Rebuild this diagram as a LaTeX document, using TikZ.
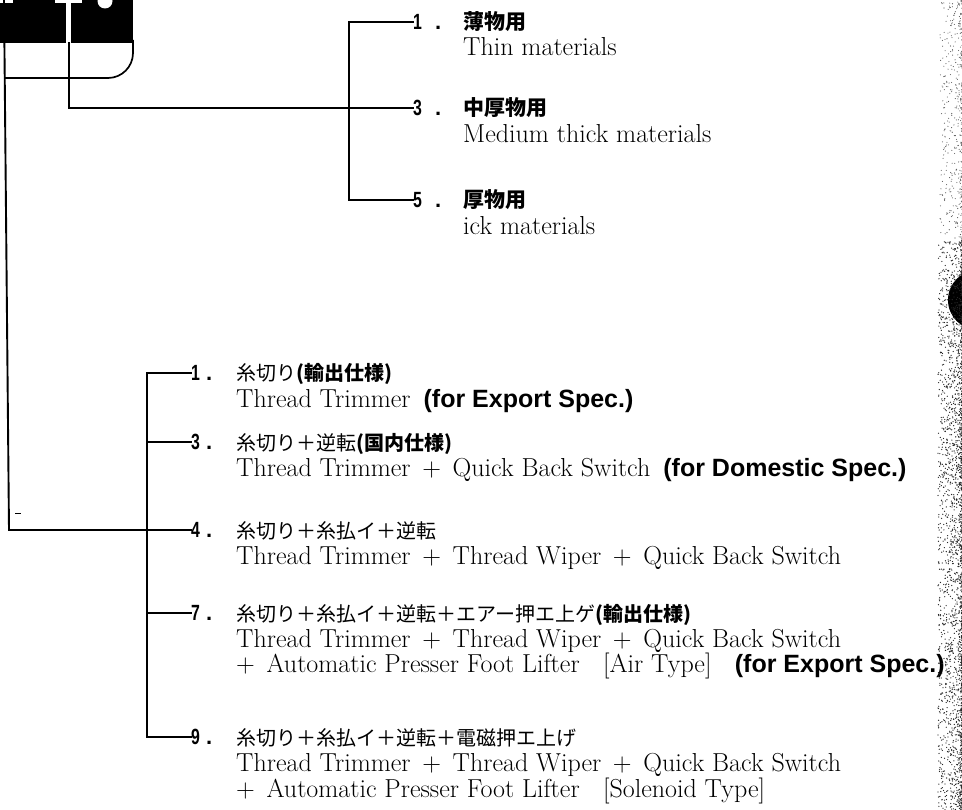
\documentclass[tikz,border=0pt]{standalone}
\usepackage{fontspec}
\usepackage{graphicx}
\newfontfamily\jpf{Noto Sans CJK JP}
\newfontfamily\sansf{Liberation Sans}
\newcommand\enf{\fontsize{26}{26}\selectfont\addfontfeatures{FakeBold=2}}
\newcommand\pl{\hspace{0.45em}+\hspace{0.45em}}
\newcommand\spc[1]{{\sansf\bfseries\fontsize{25}{26}\selectfont #1}}
\newcommand\numb[2]{{\sansf\bfseries\fontsize{22}{22}\selectfont\scalebox{0.72}[1]{#1}\hspace{#2}.}}
\tikzset{
  numt/.style={anchor=west, inner sep=0pt},
  jpt/.style={anchor=base west, inner sep=0pt, yshift=-8pt, font=\jpf\fontsize{20}{22}\selectfont},
  jptop/.style={jpt, font=\jpf\bfseries\fontsize{21}{22}\selectfont},
  ent/.style={anchor=base west, inner sep=0pt, yshift=-8.9pt, font=\enf},
  wire/.style={line width=1.9pt, line cap=rect}
}
\begin{document}
\begin{tikzpicture}[x=1pt,y=-1pt]
\clip (0,0) rectangle (962,810);
\fill[white] (0,0) rectangle (962,810);
% top-left block
\fill (0,0) rectangle (66,43);
\fill (71,0) rectangle (133,43);
\fill[white] (0,0) rectangle (13,3);
\fill[white] (55,0) rectangle (82,3);
\fill[white] (105,1) circle (7.5);
\draw[line width=1.7pt, rounded corners=25pt] (133,40) -- (133,78) -- (5,78);
% top group
\node[numt] (tn1) at (413,22) {\numb{1}{13pt}};
\node[jptop] (tj1) at (463,22) {薄物用};
\node[ent] (te1) at (463,47) {Thin materials};
\node[numt] (tn3) at (413,108) {\numb{3}{13pt}};
\node[jptop] (tj3) at (463,108) {中厚物用};
\node[ent] (te3) at (463,134) {Medium thick materials};
\node[numt] (tn5) at (413,200) {\numb{5}{13pt}};
\node[jptop] (tj5) at (463,200) {厚物用};
\node[ent] (te5) at (463,226) {ick materials};
\coordinate (T1) at (349,22);
\coordinate (T5) at (349,200);
\coordinate (M0) at (69,43);
\draw[wire] (tn1.west) -- (T1) -- (T5) -- (tn5.west);
\draw[wire] (M0) |- (tn3.west);
% bottom group
\node[numt] (bn1) at (191,373) {\numb{1}{6pt}};
\node[jpt] (bj1) at (236,373) {糸切り{\bfseries (輸出仕様)}};
\node[ent] (be1) at (236,399) {Thread Trimmer\hspace{0.5em}\spc{(for Export Spec.)}};
\node[numt] (bn3) at (191,442) {\numb{3}{6pt}};
\node[jpt] (bj3) at (236,442) {糸切り＋逆転{\bfseries (国内仕様)}};
\node[ent] (be3) at (236,468) {Thread Trimmer\pl Quick Back Switch\hspace{0.5em}\spc{(for Domestic Spec.)}};
\node[numt] (bn4) at (191,530) {\numb{4}{6pt}};
\node[jpt] (bj4) at (236,530) {糸切り＋糸払イ＋逆転};
\node[ent] (be4) at (236,556) {Thread Trimmer\pl Thread Wiper\pl Quick Back Switch};
\node[numt] (bn7) at (191,613) {\numb{7}{6pt}};
\node[jpt] (bj7) at (236,613) {糸切り＋糸払イ＋逆転＋エアー押エ上ゲ{\bfseries (輸出仕様)}};
\node[ent] (be7a) at (236,639) {Thread Trimmer\pl Thread Wiper\pl Quick Back Switch};
\node[ent] (be7b) at (236,664) {+\hspace{0.45em}Automatic Presser Foot Lifter\hspace{0.9em}[Air Type]\hspace{0.9em}\spc{(for Export Spec.)}};
\node[numt] (bn9) at (191,737) {\numb{9}{6pt}};
\node[jpt] (bj9) at (236,737) {糸切り＋糸払イ＋逆転＋電磁押エ上げ};
\node[ent] (be9a) at (236,763) {Thread Trimmer\pl Thread Wiper\pl Quick Back Switch};
\node[ent] (be9b) at (236,789) {+\hspace{0.45em}Automatic Presser Foot Lifter\hspace{0.9em}[Solenoid Type]};
\coordinate (B1) at (147,373);
\coordinate (B3) at (147,442);
\coordinate (B7) at (147,613);
\coordinate (B9) at (147,737);
\coordinate (L0) at (4,0);
\coordinate (L1) at (9,530);
\draw[wire] (bn1.west) -- (B1) -- (B9) -- (bn9.west);
\draw[wire] (B3) -- (bn3.west);
\draw[wire] (B7) -- (bn7.west);
\draw[wire] (L0) -- (L1) -- (bn4.west);
\draw[line width=0.8pt] (15,513) -- (21,513);
% right edge scan artefacts
\fill (978,300) circle (30);
\pgfmathsetseed{42}
\foreach \i in {1,...,2200}{
  \pgfmathsetmacro\u{rnd}
  \pgfmathsetmacro\xx{962-24*\u*\u}
  \pgfmathsetmacro\yy{240+570*rnd}
  \fill[black!85] (\xx,\yy) circle (0.65);
}
\foreach \i in {1,...,400}{
  \pgfmathsetmacro\u{rnd}
  \pgfmathsetmacro\xx{962-22*\u*\u}
  \pgfmathsetmacro\yy{240*rnd}
  \fill[black!65] (\xx,\yy) circle (0.55);
}
\end{tikzpicture}
\end{document}
